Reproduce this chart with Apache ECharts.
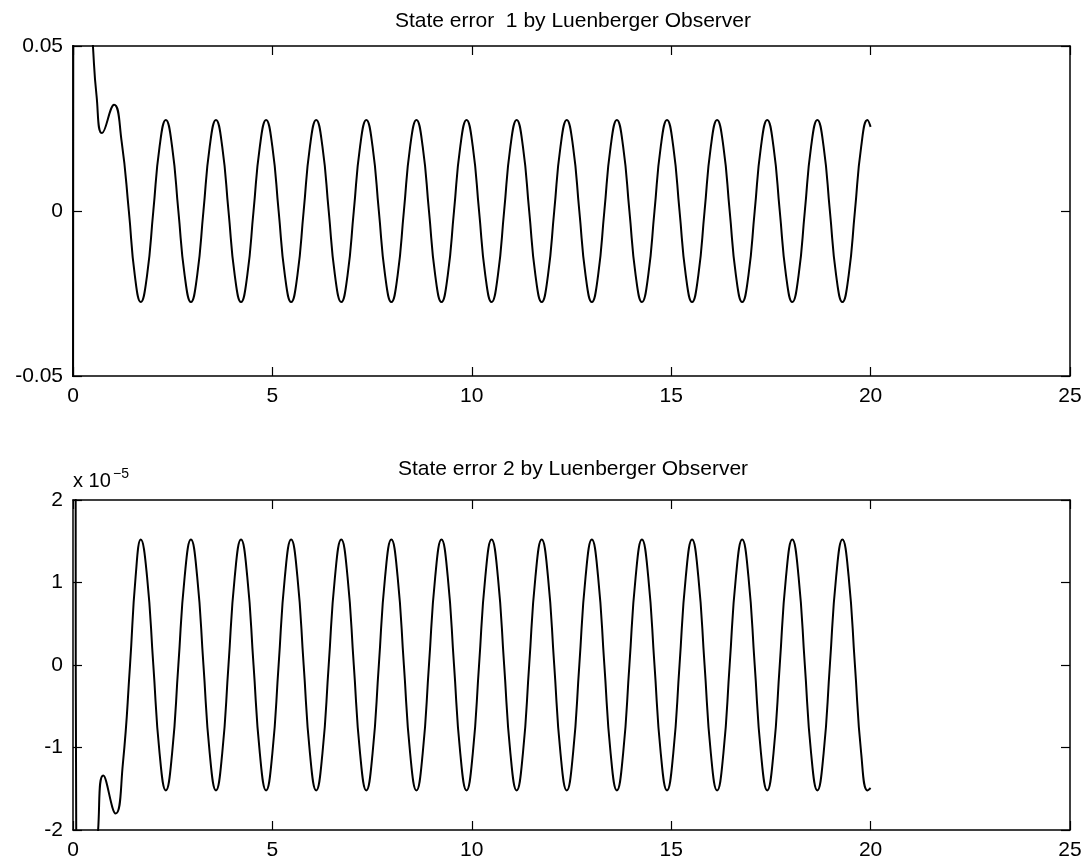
<!DOCTYPE html>
<html><head><meta charset="utf-8">
<script src="https://cdn.jsdelivr.net/npm/echarts@6/dist/echarts.min.js"></script>
<style>html,body{margin:0;padding:0;background:#fff}#c{width:1091px;height:865px}</style>
</head><body><div id="c"></div><script>
const titleTop = 'State error  1 by Luenberger Observer';
const titleBottom = 'State error 2 by Luenberger Observer';
const exponentBase = 'x 10';
const exponentPower = '\u22125';
const xTicks = [0, 5, 10, 15, 20, 25];
const y1Ticks = [-0.05, 0, 0.05];
const y2Ticks = [-2, -1, 0, 1, 2];

// transient part of state error 1 (values in original units)
const err1Start = [[0, -0.1], [0.05, 0.2], [0.3, 0.09], [0.5, 0.05], [0.59, 0.035],
  [0.73, 0.0236], [1.03, 0.0322], [1.22, 0.021], [1.40, 0], [1.55, -0.0195]];
// transient part of state error 2 (values in units of 1e-5)
const err2Start = [[0.06, 10], [0.13, -10], [0.4, -4], [0.63, -2.0], [0.76, -1.34],
  [1.07, -1.80], [1.25, -1.2], [1.43, 0], [1.57, 1.07]];

// sample times of the steady oscillation (eighth-period steps)
const keyTimes = [
  1.700, 1.857, 2.014, 2.171, 2.328, 2.485, 2.642, 2.800,
  2.957, 3.114, 3.271, 3.428, 3.585, 3.742, 3.899, 4.056,
  4.213, 4.370, 4.527, 4.685, 4.842, 4.999, 5.156, 5.313,
  5.470, 5.627, 5.784, 5.941, 6.098, 6.255, 6.412, 6.569,
  6.727, 6.884, 7.041, 7.198, 7.355, 7.512, 7.669, 7.826,
  7.983, 8.140, 8.297, 8.454, 8.612, 8.769, 8.926, 9.083,
  9.240, 9.397, 9.554, 9.711, 9.868, 10.025, 10.182, 10.339,
  10.496, 10.654, 10.811, 10.968, 11.125, 11.282, 11.439, 11.596,
  11.753, 11.910, 12.067, 12.224, 12.381, 12.539, 12.696, 12.853,
  13.010, 13.167, 13.324, 13.481, 13.638, 13.795, 13.952, 14.109,
  14.266, 14.424, 14.581, 14.738, 14.895, 15.052, 15.209, 15.366,
  15.523, 15.680, 15.837, 15.994, 16.151, 16.309, 16.466, 16.623,
  16.780, 16.937, 17.094, 17.251, 17.408, 17.565, 17.722, 17.879,
  18.036, 18.194, 18.351, 18.508, 18.665, 18.822, 18.979, 19.136,
  19.293, 19.450, 19.607, 19.764, 19.921];

const err1Osc = [
  -0.0276, -0.0195, 0, 0.0195, 0.0276, 0.0195, 0, -0.0195,
  -0.0276, -0.0195, 0, 0.0195, 0.0276, 0.0195, 0, -0.0195,
  -0.0276, -0.0195, 0, 0.0195, 0.0276, 0.0195, 0, -0.0195,
  -0.0276, -0.0195, 0, 0.0195, 0.0276, 0.0195, 0, -0.0195,
  -0.0276, -0.0195, 0, 0.0195, 0.0276, 0.0195, 0, -0.0195,
  -0.0276, -0.0195, 0, 0.0195, 0.0276, 0.0195, 0, -0.0195,
  -0.0276, -0.0195, 0, 0.0195, 0.0276, 0.0195, 0, -0.0195,
  -0.0276, -0.0195, 0, 0.0195, 0.0276, 0.0195, 0, -0.0195,
  -0.0276, -0.0195, 0, 0.0195, 0.0276, 0.0195, 0, -0.0195,
  -0.0276, -0.0195, 0, 0.0195, 0.0276, 0.0195, 0, -0.0195,
  -0.0276, -0.0195, 0, 0.0195, 0.0276, 0.0195, 0, -0.0195,
  -0.0276, -0.0195, 0, 0.0195, 0.0276, 0.0195, 0, -0.0195,
  -0.0276, -0.0195, 0, 0.0195, 0.0276, 0.0195, 0, -0.0195,
  -0.0276, -0.0195, 0, 0.0195, 0.0276, 0.0195, 0, -0.0195,
  -0.0276, -0.0195, 0, 0.0195, 0.0276];
const err2Osc = [
  1.52, 1.07, 0, -1.07, -1.52, -1.07, 0, 1.07,
  1.52, 1.07, 0, -1.07, -1.52, -1.07, 0, 1.07,
  1.52, 1.07, 0, -1.07, -1.52, -1.07, 0, 1.07,
  1.52, 1.07, 0, -1.07, -1.52, -1.07, 0, 1.07,
  1.52, 1.07, 0, -1.07, -1.52, -1.07, 0, 1.07,
  1.52, 1.07, 0, -1.07, -1.52, -1.07, 0, 1.07,
  1.52, 1.07, 0, -1.07, -1.52, -1.07, 0, 1.07,
  1.52, 1.07, 0, -1.07, -1.52, -1.07, 0, 1.07,
  1.52, 1.07, 0, -1.07, -1.52, -1.07, 0, 1.07,
  1.52, 1.07, 0, -1.07, -1.52, -1.07, 0, 1.07,
  1.52, 1.07, 0, -1.07, -1.52, -1.07, 0, 1.07,
  1.52, 1.07, 0, -1.07, -1.52, -1.07, 0, 1.07,
  1.52, 1.07, 0, -1.07, -1.52, -1.07, 0, 1.07,
  1.52, 1.07, 0, -1.07, -1.52, -1.07, 0, 1.07,
  1.52, 1.07, 0, -1.07, -1.52];

const err1End = [[20.0, 0.0255]];
const err2End = [[20.0, -1.49]];

const F = '"Liberation Sans", Arial, Helvetica, sans-serif';
const data1 = err1Start.concat(keyTimes.map((t, i) => [t, err1Osc[i]])).concat(err1End);
const data2 = err2Start.concat(keyTimes.map((t, i) => [t, err2Osc[i]])).concat(err2End);

function xa(g, pos, lab) {
  return {
    type: 'value', gridIndex: g, position: pos,
    min: xTicks[0], max: xTicks[xTicks.length - 1], interval: xTicks[1] - xTicks[0],
    axisLine: { show: true, onZero: false, lineStyle: { color: '#000', width: 1.5 } },
    axisTick: { show: true, inside: true, length: 9, lineStyle: { color: '#000', width: 1.2 } },
    axisLabel: { show: lab, margin: 10, color: '#000', fontSize: 21, fontFamily: F },
    splitLine: { show: false }
  };
}
function ya(g, pos, lab, ticks) {
  return {
    type: 'value', gridIndex: g, position: pos,
    min: ticks[0], max: ticks[ticks.length - 1], interval: ticks[1] - ticks[0],
    axisLine: { show: true, onZero: false, lineStyle: { color: '#000', width: 1.5 } },
    axisTick: { show: true, inside: true, length: 9, lineStyle: { color: '#000', width: 1.2 } },
    axisLabel: { show: lab, margin: 10, color: '#000', fontSize: 21, fontFamily: F },
    splitLine: { show: false }
  };
}

const chart = echarts.init(document.getElementById('c'), null, { renderer: 'canvas' });
chart.setOption({
  animation: false,
  backgroundColor: '#fff',
  grid: [
    { left: 73, width: 997, top: 46, height: 330 },
    { left: 73, width: 997, top: 500, height: 330 }
  ],
  xAxis: [xa(0, 'bottom', true), xa(0, 'top', false), xa(1, 'bottom', true), xa(1, 'top', false)],
  yAxis: [ya(0, 'left', true, y1Ticks), ya(0, 'right', false, y1Ticks),
          ya(1, 'left', true, y2Ticks), ya(1, 'right', false, y2Ticks)],
  graphic: [
    { type: 'text', x: 573, y: 21, style: { text: titleTop, fontSize: 21, fontFamily: F, fill: '#000', textAlign: 'center', textVerticalAlign: 'middle', verticalAlign: 'middle' } },
    { type: 'text', x: 573, y: 469, style: { text: titleBottom, fontSize: 21, fontFamily: F, fill: '#000', textAlign: 'center', textVerticalAlign: 'middle', verticalAlign: 'middle' } },
    { type: 'text', x: 73, y: 481, style: { text: exponentBase, fontSize: 20, fontFamily: F, fill: '#000', textAlign: 'left', textVerticalAlign: 'middle', verticalAlign: 'middle' } },
    { type: 'text', x: 113, y: 474, style: { text: exponentPower, fontSize: 14, fontFamily: F, fill: '#000', textAlign: 'left', textVerticalAlign: 'middle', verticalAlign: 'middle' } }
  ],
  series: [
    { type: 'line', xAxisIndex: 0, yAxisIndex: 0, data: data1, showSymbol: false, smooth: 0.5, clip: true,
      lineStyle: { color: '#000', width: 2 }, itemStyle: { color: '#000' } },
    { type: 'line', xAxisIndex: 2, yAxisIndex: 2, data: data2, showSymbol: false, smooth: 0.5, clip: true,
      lineStyle: { color: '#000', width: 2 }, itemStyle: { color: '#000' } }
  ]
});
</script></body></html>
